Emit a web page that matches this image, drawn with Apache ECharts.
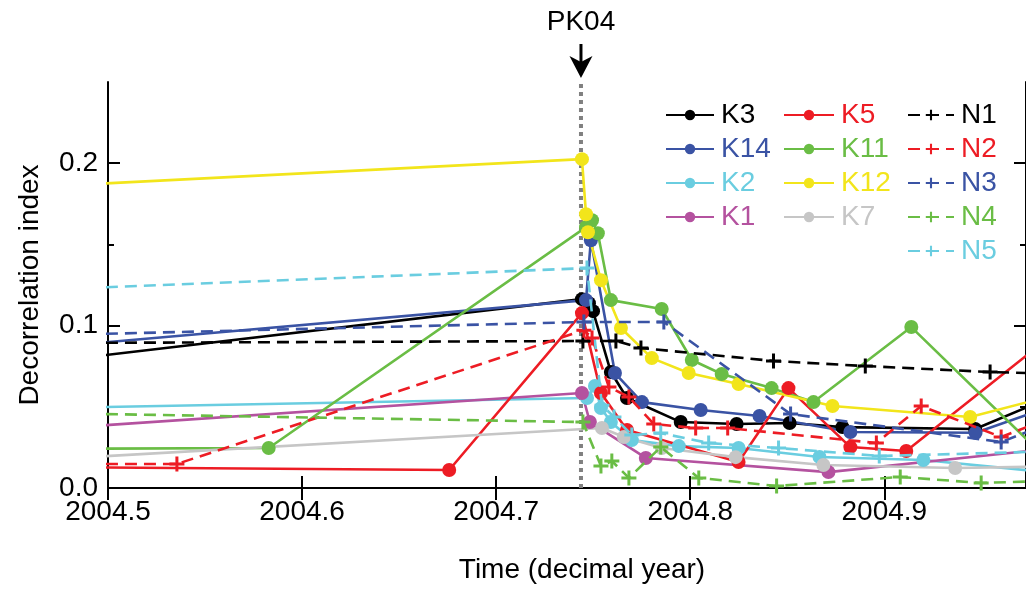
<!DOCTYPE html>
<html>
<head>
<meta charset="utf-8">
<script src="https://cdn.jsdelivr.net/npm/echarts@6/dist/echarts.min.js"></script>
<style>
  html, body { margin: 0; padding: 0; background: #fff; }
  #chart { width: 1026px; height: 590px; }
</style>
</head>
<body>
<div id="chart"></div>
<script>
// Decorrelation index per station, [decimal year, index]
const K3  = [[2004.45,0.075],[2004.7442,0.1163],[2004.7478,0.1138],[2004.7499,0.1089],[2004.7591,0.0714],[2004.7674,0.0554],[2004.7951,0.0406],[2004.8239,0.0394],[2004.8512,0.0400],[2004.8784,0.0375],[2004.9468,0.0363],[2004.99,0.058]];
const K14 = [[2004.45,0.0846],[2004.7463,0.1157],[2004.7488,0.1526],[2004.7612,0.0708],[2004.7751,0.0529],[2004.8054,0.0480],[2004.8357,0.0443],[2004.8825,0.0345],[2004.947,0.034],[2004.99,0.052]];
const K2  = [[2004.45,0.0488],[2004.7468,0.0554],[2004.7509,0.0628],[2004.7540,0.0492],[2004.7591,0.0406],[2004.7699,0.0295],[2004.7941,0.0258],[2004.8249,0.0246],[2004.8666,0.0191],[2004.9201,0.0172],[2004.99,0.009]];
const K1  = [[2004.45,0.0348],[2004.7442,0.0585],[2004.7483,0.0406],[2004.7771,0.0185],[2004.8712,0.0098],[2005.0,0.026]];
const K5  = [[2004.45,0.013],[2004.6758,0.0111],[2004.7442,0.1077],[2004.7540,0.0585],[2004.7674,0.0357],[2004.8249,0.016],[2004.8506,0.0615],[2004.8825,0.0252],[2004.9113,0.0228],[2005.0,0.107]];
const K11 = [[2004.45,0.024],[2004.5828,0.0246],[2004.7463,0.1606],[2004.7494,0.1649],[2004.7524,0.1569],[2004.7591,0.1157],[2004.7853,0.1102],[2004.8008,0.0788],[2004.8162,0.0702],[2004.8419,0.0615],[2004.8635,0.0529],[2004.9139,0.0991],[2004.9802,0.022]];
const K12 = [[2004.45,0.1846],[2004.7442,0.2025],[2004.7463,0.1686],[2004.7473,0.1575],[2004.7540,0.128],[2004.7643,0.0985],[2004.7802,0.080],[2004.7992,0.0708],[2004.8249,0.064],[2004.8733,0.0505],[2004.9442,0.0437],[2005.0,0.061]];
const K7  = [[2004.45,0.0163],[2004.7545,0.0369],[2004.7658,0.0314],[2004.7853,0.0246],[2004.8234,0.019],[2004.8686,0.0142],[2004.9365,0.0123],[2005.0,0.0135]];
const N1  = [[2004.45,0.0892],[2004.7447,0.0905],[2004.7617,0.0905],[2004.7746,0.0862],[2004.8429,0.0782],[2004.8902,0.0751],[2004.9545,0.0714],[2005.0,0.070]];
const N2  = [[2004.45,0.0148],[2004.5355,0.0148],[2004.7452,0.0972],[2004.7494,0.0923],[2004.7581,0.0622],[2004.7684,0.056],[2004.7812,0.0394],[2004.8028,0.0369],[2004.8193,0.0369],[2004.8959,0.0277],[2004.9190,0.0505],[2004.9602,0.0314],[2005.0,0.05]];
const N3  = [[2004.45,0.0935],[2004.7452,0.1022],[2004.7864,0.1022],[2004.8517,0.0455],[2004.9602,0.0283],[2005.0,0.047]];
const N4  = [[2004.45,0.0465],[2004.7447,0.0406],[2004.754,0.0135],[2004.7596,0.0166],[2004.7684,0.0062],[2004.7848,0.0252],[2004.8044,0.0062],[2004.8445,0.0012],[2004.9082,0.0068],[2004.9499,0.0031],[2005.0,0.005]];
const N5  = [[2004.45,0.1213],[2004.7468,0.1354],[2004.7545,0.051],[2004.7607,0.0437],[2004.7699,0.0326],[2004.7848,0.0338],[2004.8095,0.0277],[2004.8455,0.0246],[2004.8974,0.0197],[2005.0,0.023]];

// Parkfield 2004 earthquake time
const eventTime = 2004.7437;
const eventName = 'PK04';

// Axis ranges and ticks
const xMin = 2004.5, xMax = 2004.973;
const xTicks = [2004.5, 2004.6, 2004.7, 2004.8, 2004.9];
const yMin = 0, yMax = 0.25;
const yMajor = [0, 0.1, 0.2];
const yMinor = [0.05, 0.15];

const FONT = '"Liberation Sans", Arial, Helvetica, sans-serif';
const PLUS = 'path://M4,0H6V4H10V6H6V10H4V6H0V4H4Z';

const colors = {
  black: '#000000', blue: '#3a53a4', cyan: '#6acde0', magenta: '#b4529f',
  red: '#ed1c24', green: '#6abd45', yellow: '#f2e51b', gray: '#c6c6c6'
};

function kSeries(name, data, color) {
  return {
    name, type: 'line', data, z: 3,
    symbol: 'circle', symbolSize: 14, showSymbol: true,
    lineStyle: { color, width: 2.6 }, itemStyle: { color },
    emphasis: { disabled: true }
  };
}
function nSeries(name, data, color) {
  return {
    name, type: 'line', data, z: 4,
    symbol: PLUS, symbolSize: 15, showSymbol: true,
    lineStyle: { color, width: 2.6, type: [12, 7] }, itemStyle: { color },
    emphasis: { disabled: true }
  };
}

const series = [
  {
    // dotted vertical line at the earthquake time
    name: eventName, type: 'line', z: 1, silent: true,
    data: [[eventTime, yMin], [eventTime, yMax]],
    symbol: 'none',
    lineStyle: { color: '#808080', width: 4, type: [4, 4] },
    emphasis: { disabled: true }
  },
  kSeries('K3', K3, colors.black),
  kSeries('K14', K14, colors.blue),
  kSeries('K2', K2, colors.cyan),
  kSeries('K1', K1, colors.magenta),
  kSeries('K5', K5, colors.red),
  kSeries('K11', K11, colors.green),
  kSeries('K12', K12, colors.yellow),
  kSeries('K7', K7, colors.gray),
  nSeries('N1', N1, colors.black),
  nSeries('N2', N2, colors.red),
  nSeries('N3', N3, colors.blue),
  nSeries('N4', N4, colors.green),
  nSeries('N5', N5, colors.cyan)
];

function legendCol(left, names, cols, width) {
  return {
    orient: 'vertical', left, top: 101, padding: 0,
    itemWidth: width, itemHeight: 13, itemGap: 6,
    selectedMode: false,
    textStyle: { fontFamily: FONT, fontSize: 28, padding: [0, 0, 0, 2] },
    data: names.map((n, i) => ({ name: n, textStyle: { color: cols[i] } }))
  };
}

const tickStyle = { color: '#000', width: 2 };
const lineStyle = { color: '#000', width: 2 };

const option = {
  animation: false,
  backgroundColor: '#fff',
  grid: { left: 108, right: -2, top: 82, bottom: 102 },
  legend: [
    legendCol(665, ['K3', 'K14', 'K2', 'K1'], [colors.black, colors.blue, colors.cyan, colors.magenta], 48),
    legendCol(783, ['K5', 'K11', 'K12', 'K7'], [colors.red, colors.green, colors.yellow, colors.gray], 50),
    legendCol(907, ['N1', 'N2', 'N3', 'N4', 'N5'], [colors.black, colors.red, colors.blue, colors.green, colors.cyan], 46)
  ],
  xAxis: [
    {
      type: 'value', position: 'bottom', min: xMin, max: xMax,
      name: 'Time (decimal year)', nameLocation: 'middle', nameGap: 68,
      nameTextStyle: { fontFamily: FONT, fontSize: 28, color: '#000', padding: [0, 0, 0, 30] },
      axisLine: { show: true, lineStyle },
      axisTick: { show: true, inside: true, length: 12, lineStyle: tickStyle, customValues: xTicks },
      axisLabel: {
        show: true, customValues: xTicks, margin: 10,
        fontFamily: FONT, fontSize: 28, color: '#000',
        formatter: v => v.toFixed(1)
      },
      splitLine: { show: false }
    },
    {
      type: 'value', position: 'top', min: xMin, max: xMax,
      axisLine: { show: true, lineStyle },
      axisTick: { show: true, inside: true, length: 12, lineStyle: tickStyle, customValues: xTicks },
      axisLabel: { show: false },
      splitLine: { show: false }
    }
  ],
  yAxis: [
    {
      type: 'value', position: 'left', min: yMin, max: yMax,
      name: 'Decorrelation index', nameLocation: 'middle', nameGap: 64,
      nameTextStyle: { fontFamily: FONT, fontSize: 28, color: '#000' },
      axisLine: { show: true, lineStyle },
      axisTick: { show: true, inside: true, length: 12, lineStyle: tickStyle, customValues: yMajor },
      axisLabel: {
        show: true, customValues: yMajor, margin: 10,
        fontFamily: FONT, fontSize: 28, color: '#000',
        formatter: v => v.toFixed(1)
      },
      splitLine: { show: false }
    },
    {
      type: 'value', position: 'left', min: yMin, max: yMax,
      axisLine: { show: false },
      axisTick: { show: true, inside: true, length: 6, lineStyle: tickStyle, customValues: yMinor },
      axisLabel: { show: false }, splitLine: { show: false }
    },
    {
      type: 'value', position: 'right', min: yMin, max: yMax,
      axisLine: { show: true, lineStyle },
      axisTick: { show: true, inside: true, length: 12, lineStyle: tickStyle, customValues: yMajor },
      axisLabel: { show: false }, splitLine: { show: false }
    },
    {
      type: 'value', position: 'right', min: yMin, max: yMax,
      axisLine: { show: false },
      axisTick: { show: true, inside: true, length: 6, lineStyle: tickStyle, customValues: yMinor },
      axisLabel: { show: false }, splitLine: { show: false }
    }
  ],
  series
};

const chart = echarts.init(document.getElementById('chart'), null, { renderer: 'canvas' });
chart.setOption(option);

// Arrow and label marking the earthquake above the plot frame
const ex = chart.convertToPixel({ xAxisIndex: 0 }, eventTime);
chart.setOption({
  graphic: [
    {
      type: 'text', x: ex, y: 8,
      style: { text: eventName, align: 'center', fontFamily: FONT, fontSize: 28, fill: '#000' }
    },
    {
      type: 'rect', shape: { x: ex - 1.5, y: 44, width: 3, height: 20 },
      style: { fill: '#000' }
    },
    {
      type: 'polygon',
      shape: { points: [[ex - 11.5, 56], [ex, 62], [ex + 11.5, 56], [ex, 78]] },
      style: { fill: '#000' }
    }
  ]
});
</script>
</body>
</html>
